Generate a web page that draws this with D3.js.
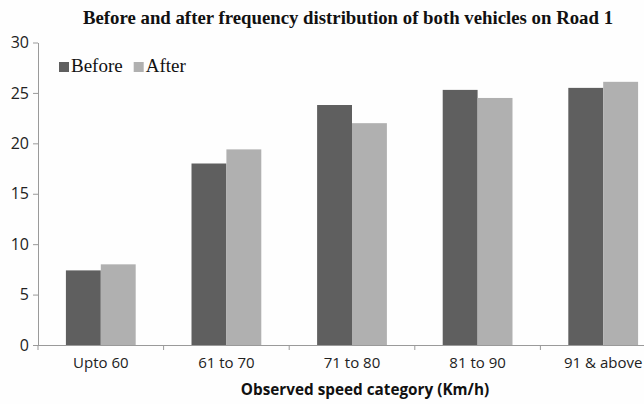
<!DOCTYPE html>
<html><head><meta charset="utf-8">
<script src="https://cdn.jsdelivr.net/npm/d3@7"></script>
<style>body{margin:0;background:#fff}svg{display:block}</style>
</head><body>
<script>
const categories = ["Upto 60", "61 to 70", "71 to 80", "81 to 90", "91 & above"];
const seriesNames = ["Before", "After"];
const before = [7.4, 18.0, 23.8, 25.3, 25.5];
const after = [8.0, 19.4, 22.0, 24.5, 26.1];
const yTicks = [0, 5, 10, 15, 20, 25, 30];
const colors = ["#5f5f5f", "#b0b0b0"];

const W = 644, H = 404;
const svg = d3.select("body").append("svg").attr("width", W).attr("height", H);
svg.append("rect").attr("width", W).attr("height", H).attr("fill", "#fefefe");

const x0 = 38, bandW = 125.6;
const x = d3.scaleBand().domain(categories).range([x0, x0 + bandW * categories.length]).paddingInner(0).paddingOuter(0);
const xs = d3.scaleBand().domain(seriesNames).range([0, x.bandwidth()]).paddingInner(0).paddingOuter(0.8);
const y = d3.scaleLinear().domain([0, 30]).range([345, 42.5]);

const data = categories.map((c, i) => ({c, vals: [before[i], after[i]]}));

const g = svg.append("g");
g.selectAll("g.grp").data(data).join("g").attr("class", "grp")
  .attr("transform", d => `translate(${x(d.c)},0)`)
  .selectAll("rect").data(d => d.vals.map((v, j) => ({s: seriesNames[j], v, j})))
  .join("rect")
  .attr("x", d => xs(d.s)).attr("width", xs.bandwidth())
  .attr("y", d => y(d.v)).attr("height", d => y(0) - y(d.v))
  .attr("fill", d => colors[d.j]);

// y axis
const yAxis = svg.append("g").attr("transform", `translate(${x0},0)`)
  .call(d3.axisLeft(y).tickValues(yTicks).tickSize(5).tickSizeOuter(0).tickPadding(4));
yAxis.select(".domain").attr("stroke", "#9a9a9a");
yAxis.selectAll(".tick line").attr("stroke", "#9a9a9a");
yAxis.selectAll(".tick text").attr("font-family", "'Open Sans', sans-serif").attr("font-size", 16).attr("fill", "#222");

// x axis
const xAxis = svg.append("g").attr("transform", `translate(0,${y(0)})`)
  .call(d3.axisBottom(x).tickSize(0).tickPadding(12));
xAxis.select(".domain").attr("stroke", "#9a9a9a").attr("d", `M${x0},0.5H${W}`);
xAxis.selectAll(".tick text").attr("font-family", "'Open Sans', sans-serif").attr("font-size", 15).attr("fill", "#222");
const bounds = categories.map(c => x(c)).concat([x0 + bandW * categories.length]);
xAxis.selectAll("line.bd").data(bounds).join("line").attr("class", "bd")
  .attr("x1", d => d).attr("x2", d => d).attr("y1", 0).attr("y2", 5).attr("stroke", "#9a9a9a");

// title
svg.append("text").attr("x", 348).attr("y", 24).attr("text-anchor", "middle")
  .attr("font-family", "'Liberation Serif', serif").attr("font-weight", "bold").attr("font-size", 18.8)
  .attr("fill", "#111").text("Before and after frequency distribution of both vehicles on Road 1");

// axis title
svg.append("text").attr("x", 365).attr("y", 395).attr("text-anchor", "middle")
  .attr("font-family", "'Open Sans', sans-serif").attr("font-weight", "bold").attr("font-size", 15.3)
  .attr("fill", "#111").text("Observed speed category (Km/h)");

// legend
const leg = svg.append("g").attr("transform", "translate(59,72)");
let lx = 0;
seriesNames.forEach((s, j) => {
  leg.append("rect").attr("x", lx).attr("y", -10).attr("width", 10).attr("height", 10).attr("fill", colors[j]);
  const t = leg.append("text").attr("x", lx + 12).attr("y", 0)
    .attr("font-family", "'Liberation Serif', serif").attr("font-size", 19).attr("fill", "#111").text(s);
  lx += 12 + t.node().getComputedTextLength() + 11;
});
</script>
</body></html>
